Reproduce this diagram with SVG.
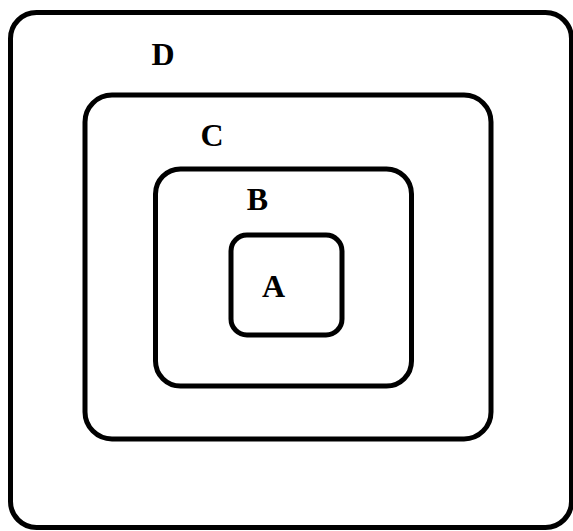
<svg xmlns="http://www.w3.org/2000/svg" width="573" height="531" viewBox="0 0 573 531">
<style>
.box{fill:none;stroke:#000;stroke-width:5}
.lbl{font-family:"Liberation Serif","Times New Roman",serif;font-weight:bold;font-size:32px;fill:#000;text-anchor:middle}
</style>
<rect width="573" height="531" fill="#fff"/>
<g id="D"><rect class="box" x="10.5" y="12.5" width="561" height="515" rx="26"/><text class="lbl" x="163" y="65">D</text></g>
<g id="C"><rect class="box" x="85" y="95" width="406" height="344" rx="27"/><text class="lbl" x="212" y="146">C</text></g>
<g id="B"><rect class="box" x="155.5" y="169" width="256" height="217" rx="25"/><text class="lbl" x="257.5" y="210">B</text></g>
<g id="A"><rect class="box" x="231" y="235" width="111" height="100" rx="16"/><text class="lbl" x="273.5" y="297">A</text></g>
<g id="connectors"/>
</svg>
